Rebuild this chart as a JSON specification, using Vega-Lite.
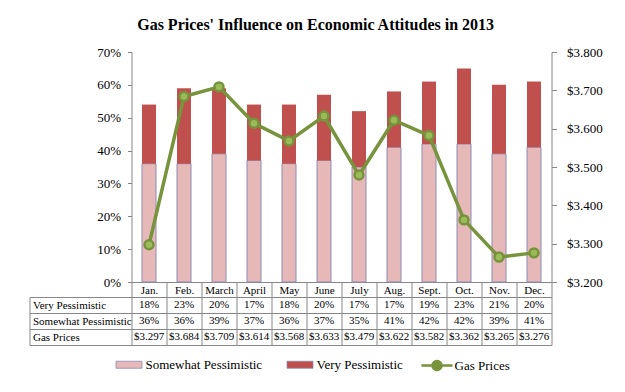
{
  "$schema": "https://vega.github.io/schema/vega-lite/v6.json",
  "background": "white",
  "padding": {"left": 28.5, "top": 17, "right": 10, "bottom": 10},
  "title": {"text": "Gas Prices' Influence on Economic Attitudes in 2013", "font": "Liberation Serif", "fontSize": 16, "fontWeight": "bold", "color": "black", "anchor": "middle", "offset": 13},
  "datasets": {
    "gas": [
      {"month": "Jan.", "Somewhat Pessimistic": 0.36, "Very Pessimistic": 0.18, "Gas Prices": 3.297},
      {"month": "Feb.", "Somewhat Pessimistic": 0.36, "Very Pessimistic": 0.23, "Gas Prices": 3.684},
      {"month": "March", "Somewhat Pessimistic": 0.39, "Very Pessimistic": 0.20, "Gas Prices": 3.709},
      {"month": "April", "Somewhat Pessimistic": 0.37, "Very Pessimistic": 0.17, "Gas Prices": 3.614},
      {"month": "May", "Somewhat Pessimistic": 0.36, "Very Pessimistic": 0.18, "Gas Prices": 3.568},
      {"month": "June", "Somewhat Pessimistic": 0.37, "Very Pessimistic": 0.20, "Gas Prices": 3.633},
      {"month": "July", "Somewhat Pessimistic": 0.35, "Very Pessimistic": 0.17, "Gas Prices": 3.479},
      {"month": "Aug.", "Somewhat Pessimistic": 0.41, "Very Pessimistic": 0.17, "Gas Prices": 3.622},
      {"month": "Sept.", "Somewhat Pessimistic": 0.42, "Very Pessimistic": 0.19, "Gas Prices": 3.582},
      {"month": "Oct.", "Somewhat Pessimistic": 0.42, "Very Pessimistic": 0.23, "Gas Prices": 3.362},
      {"month": "Nov.", "Somewhat Pessimistic": 0.39, "Very Pessimistic": 0.21, "Gas Prices": 3.265},
      {"month": "Dec.", "Somewhat Pessimistic": 0.41, "Very Pessimistic": 0.20, "Gas Prices": 3.276}
    ]
  },
  "data": {"name": "gas"},
  "spacing": 15,
  "bounds": "flush",
  "vconcat": [
    {
      "width": 420,
      "height": 230,
      "layer": [
        {
          "transform": [{"fold": ["Somewhat Pessimistic", "Very Pessimistic"], "as": ["key", "value"]}],
          "mark": {"type": "bar", "width": {"band": 0.4}},
          "encoding": {
            "x": {"field": "month", "type": "nominal", "sort": null,
              "scale": {"paddingInner": 0, "paddingOuter": 0},
              "axis": {"title": null, "orient": "bottom", "tickBand": "extent", "tickSize": 15, "labelPadding": -7, "labelBaseline": "middle", "labelAngle": 0, "labelFontSize": 11, "labelFont": "Liberation Serif"}},
            "y": {"field": "value", "type": "quantitative", "stack": "zero",
              "scale": {"domain": [0, 0.7], "nice": false},
              "axis": {"orient": "left", "title": null, "values": [0, 0.1, 0.2, 0.3, 0.4, 0.5, 0.6, 0.7], "format": ".0%", "tickSize": 4, "labelPadding": 7, "labelFont": "Liberation Serif"}},
            "order": {"field": "key", "type": "nominal", "sort": "ascending"},
            "color": {"field": "key", "type": "nominal",
              "scale": {"domain": ["Somewhat Pessimistic", "Very Pessimistic"], "range": ["#E6B9B8", "#C0504D"]},
              "legend": {"orient": "none", "legendX": -16, "legendY": 299, "direction": "horizontal", "title": null,
                "symbolType": "M-1,-0.27H1V0.27H-1Z", "symbolSize": 676, "symbolStrokeColor": "#8C8CB4", "symbolStrokeWidth": 0.8, "symbolOpacity": 1,
                "labelOffset": 3, "columnPadding": 22, "padding": 0, "labelFont": "Liberation Serif"}},
            "stroke": {"condition": {"test": "datum.key === 'Somewhat Pessimistic'", "value": "#8C8CB4"}, "value": "transparent"}
          }
        },
        {
          "mark": {"type": "line", "strokeWidth": 3.5,
            "point": {"filled": true, "fill": "#9BBB59", "stroke": "#77933C", "strokeWidth": 2.5, "size": 80}},
          "encoding": {
            "x": {"field": "month", "type": "nominal", "sort": null},
            "y": {"field": "Gas Prices", "type": "quantitative",
              "scale": {"domain": [3.2, 3.8], "zero": false, "nice": false},
              "axis": {"orient": "right", "title": null, "values": [3.2, 3.3, 3.4, 3.5, 3.6, 3.7, 3.8], "format": "$.3f", "tickSize": 5, "labelPadding": 10, "labelFont": "Liberation Serif"}},
            "color": {"datum": "Gas Prices", "type": "nominal",
              "scale": {"domain": ["Gas Prices"], "range": ["#77933C"]},
              "legend": {"orient": "none", "legendX": 291, "legendY": 299, "direction": "horizontal", "title": null,
                "symbolType": "M-1.2,0H-0.35M0.35,0H1.2M0.35,0A0.35,0.35,0,1,1,-0.35,0A0.35,0.35,0,1,1,0.35,0",
                "symbolSize": 676, "symbolFillColor": "#9BBB59", "symbolStrokeColor": "#77933C", "symbolStrokeWidth": 2.5, "symbolOpacity": 1,
                "labelOffset": 3, "padding": 0, "labelFont": "Liberation Serif"}}
          }
        }
      ],
      "resolve": {"scale": {"y": "independent", "color": "independent"}}
    },
    {
      "width": 420,
      "height": 48,
      "layer": [
        {
          "mark": {"type": "text", "fontSize": 11, "color": "black", "font": "Liberation Serif"},
          "encoding": {
            "x": {"field": "month", "type": "nominal", "sort": null,
              "scale": {"paddingInner": 0, "paddingOuter": 0},
              "axis": {"title": null, "orient": "top", "labels": false, "ticks": false, "domain": false, "grid": true, "tickBand": "extent", "gridColor": "#868686"}},
            "y": {"datum": "Very Pessimistic", "type": "nominal",
              "scale": {"domain": ["Very Pessimistic", "Somewhat Pessimistic", "Gas Prices"], "paddingInner": 0, "paddingOuter": 0},
              "axis": {"title": null, "grid": true, "gridColor": "#868686", "tickBand": "extent", "offset": 102, "tickSize": -102, "labelAlign": "left", "labelPadding": 99, "labelFontSize": 11, "labelFont": "Liberation Serif"}},
            "text": {"field": "Very Pessimistic", "type": "quantitative", "format": ".0%"}
          }
        },
        {
          "mark": {"type": "text", "fontSize": 11, "color": "black", "font": "Liberation Serif"},
          "encoding": {
            "x": {"field": "month", "type": "nominal", "sort": null},
            "y": {"datum": "Somewhat Pessimistic", "type": "nominal"},
            "text": {"field": "Somewhat Pessimistic", "type": "quantitative", "format": ".0%"}
          }
        },
        {
          "mark": {"type": "text", "fontSize": 11, "color": "black", "font": "Liberation Serif"},
          "encoding": {
            "x": {"field": "month", "type": "nominal", "sort": null},
            "y": {"datum": "Gas Prices", "type": "nominal"},
            "text": {"field": "Gas Prices", "type": "quantitative", "format": "$.3f"}
          }
        }
      ]
    }
  ],
  "config": {
    "font": "Liberation Serif",
    "view": {"stroke": null},
    "text": {"font": "Liberation Serif"},
    "axis": {"domainColor": "#868686", "tickColor": "#868686", "labelColor": "black", "labelFont": "Liberation Serif", "labelFontSize": 13, "grid": false},
    "legend": {"labelFont": "Liberation Serif", "labelFontSize": 13, "labelColor": "black"}
  }
}
